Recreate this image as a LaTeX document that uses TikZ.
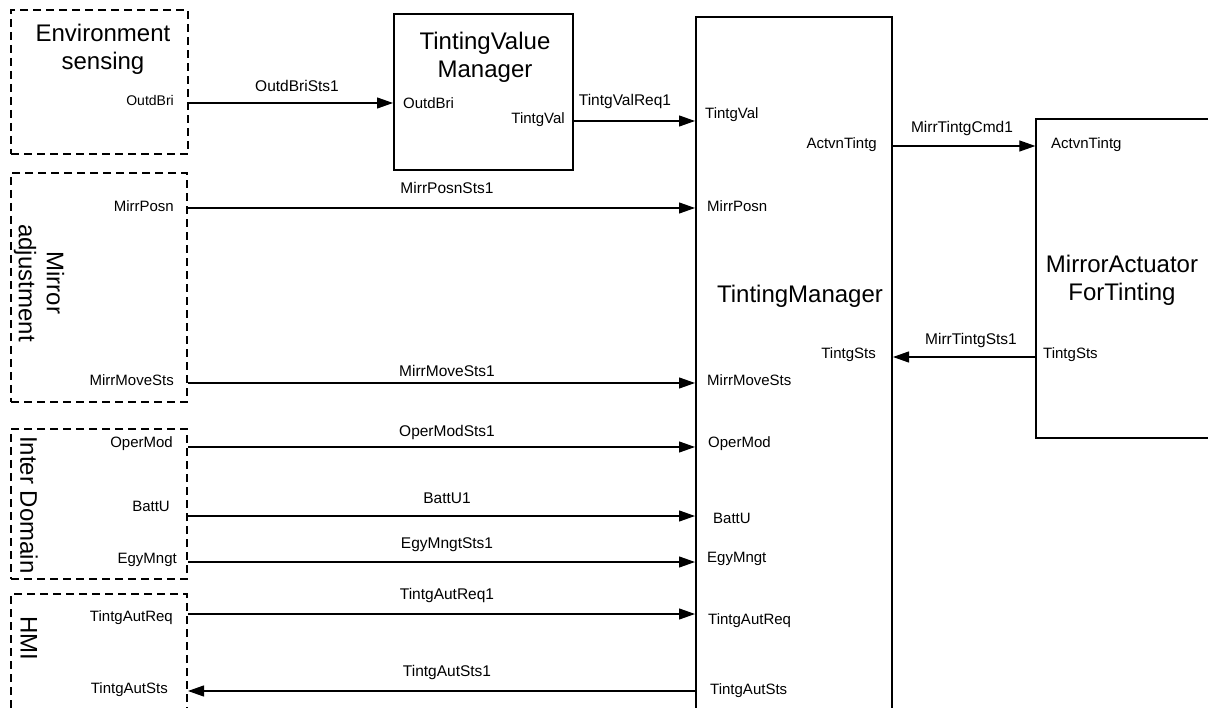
\documentclass[tikz,border=0pt]{standalone}
\usepackage{fontspec}
\setmainfont{Liberation Sans}
\usetikzlibrary{arrows.meta}
\begin{document}
\begin{tikzpicture}[x=1pt,y=-1pt,
  dbox/.style={draw,line width=2pt,dash pattern=on 8pt off 5pt,inner sep=0pt,minimum width=#1},
  sbox/.style={draw,line width=2pt,inner sep=0pt},
  tbox/.style={draw,line width=1.3pt,inner sep=0pt},
  title/.style={font=\fontsize{24}{28}\selectfont,align=center,inner sep=0pt},
  port/.style={font=\fontsize{15}{17}\selectfont,inner sep=0pt},
  sport/.style={font=\fontsize{14}{16}\selectfont,inner sep=0pt},
  sig/.style={font=\fontsize{15.5}{17}\selectfont,inner sep=0pt},
  arr/.style={line width=1.2pt,-{Triangle[length=16pt,width=11pt]}}]
\clip (0,0) rectangle (1208,708);
\fill[white] (0,0) rectangle (1208,708);
% boxes
\node[dbox=177pt,minimum height=144pt] (env) at (99.5,82) {};
\node[dbox=176pt,minimum height=229pt] (mirr) at (99,287.5) {};
\node[dbox=176pt,minimum height=150pt] (inter) at (99,504) {};
\node[dbox=176pt,minimum height=166pt] (hmi) at (99,677) {};
\node[sbox,minimum width=179pt,minimum height=156pt] (tvm) at (483.5,92) {};
\node[sbox,minimum width=196pt,minimum height=743pt] (tm) at (794,388.5) {};
\node[tbox,minimum width=204pt,minimum height=319pt] (ma) at (1138,278.5) {};
% titles
\node[title] (envt) at (103,49) {Environment\\sensing};
\node[title,rotate=-90] (mirrt) at (39,283) {Mirror\\adjustment};
\node[title,rotate=-90] (intert) at (29,505) {Inter Domain};
\node[title,rotate=-90] (hmit) at (29,638) {HMI};
\node[title] (tvmt) at (485,57) {TintingValue\\Manager};
\node[title] (tmt) at (800,296) {TintingManager};
\node[title] (mat) at (1122,280) {MirrorActuator\\ForTinting};
% ports
\node[sport,anchor=east] (p1) at (174,101) {OutdBri};
\node[port,anchor=east] (p2) at (174,206) {MirrPosn};
\node[port,anchor=east] (p3) at (174,380) {MirrMoveSts};
\node[port,anchor=east] (p4) at (173,444) {OperMod};
\node[port,anchor=east] (p5) at (170,506) {BattU};
\node[port,anchor=east] (p6) at (177,560) {EgyMngt};
\node[port,anchor=east] (p7) at (173,618) {TintgAutReq};
\node[port,anchor=east] (p8) at (168,690) {TintgAutSts};
\node[port,anchor=west] (q1) at (403,103) {OutdBri};
\node[port,anchor=east] (q2) at (565,120) {TintgVal};
\node[port,anchor=west] (r1) at (705,115) {TintgVal};
\node[port,anchor=east] (r2) at (877,145) {ActvnTintg};
\node[port,anchor=west] (r3) at (707,206) {MirrPosn};
\node[port,anchor=east] (r4) at (876,355) {TintgSts};
\node[port,anchor=west] (r5) at (707,380) {MirrMoveSts};
\node[port,anchor=west] (r6) at (708,444) {OperMod};
\node[port,anchor=west] (r7) at (713,518) {BattU};
\node[port,anchor=west] (r8) at (707,559) {EgyMngt};
\node[port,anchor=west] (r9) at (708,621) {TintgAutReq};
\node[port,anchor=west] (r10) at (710,691) {TintgAutSts};
\node[port,anchor=west] (s1) at (1051,145) {ActvnTintg};
\node[port,anchor=west] (s2) at (1043,355) {TintgSts};
% signal labels
\node[sig] (l1) at (297,85.5) {OutdBriSts1};
\node[sig] (l2) at (625,101) {TintgValReq1};
\node[sig] (l3) at (962,128) {MirrTintgCmd1};
\node[sig] (l4) at (447,188) {MirrPosnSts1};
\node[sig] (l5) at (971,340) {MirrTintgSts1};
\node[sig] (l6) at (447,371) {MirrMoveSts1};
\node[sig] (l7) at (447,432) {OperModSts1};
\node[sig] (l8) at (447,498) {BattU1};
\node[sig] (l9) at (447,545) {EgyMngtSts1};
\node[sig] (l10) at (447,595) {TintgAutReq1};
\node[sig] (l11) at (447,672) {TintgAutSts1};
% connectors
\draw[arr] (env.east |- 0,103) -- (tvm.west |- 0,103);
\draw[arr] (tvm.east |- 0,121) -- (tm.west |- 0,121);
\draw[arr] (tm.east |- 0,146) -- (ma.west |- 0,146);
\draw[arr] (mirr.east |- 0,208) -- (tm.west |- 0,208);
\draw[arr] (ma.west |- 0,357) -- (tm.east |- 0,357);
\draw[arr] (mirr.east |- 0,383) -- (tm.west |- 0,383);
\draw[arr] (inter.east |- 0,447) -- (tm.west |- 0,447);
\draw[arr] (inter.east |- 0,516) -- (tm.west |- 0,516);
\draw[arr] (inter.east |- 0,562) -- (tm.west |- 0,562);
\draw[arr] (hmi.east |- 0,614) -- (tm.west |- 0,614);
\draw[arr] (tm.west |- 0,691) -- (hmi.east |- 0,691);
\end{tikzpicture}
\end{document}
